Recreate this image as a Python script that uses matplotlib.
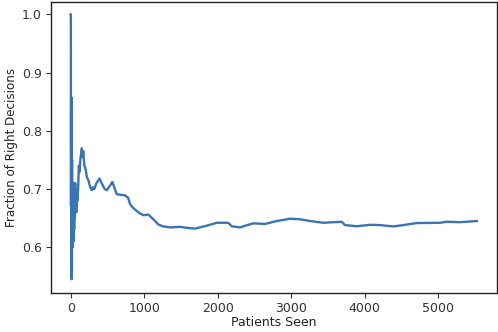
import matplotlib
matplotlib.use("Agg")
import matplotlib.pyplot as plt

patients = [0, 1, 3, 5, 7, 9, 11, 13, 15, 17, 19, 21, 24, 27, 30, 34, 38, 42, 46, 50,
            55, 60, 65, 70, 75, 80, 90, 100, 110, 120, 130, 150, 160, 170, 185, 200,
            220, 240, 260, 285, 300, 320, 350, 390, 420, 460, 490, 530, 566, 600, 626,
            680, 739, 780, 807, 852, 900, 943, 990, 1056, 1124, 1192, 1250, 1351, 1487,
            1600, 1691, 1850, 1986, 2144, 2190, 2303, 2400, 2485, 2644, 2803, 2984,
            3120, 3256, 3437, 3687, 3732, 3891, 4072, 4208, 4389, 4525, 4707, 5024,
            5115, 5297, 5524]
fraction = [1.0, 1.0, 0.67, 0.857, 0.60, 0.857, 0.545, 0.80, 0.56, 0.75, 0.60, 0.71,
            0.60, 0.71, 0.62, 0.70, 0.61, 0.71, 0.63, 0.70, 0.65, 0.71, 0.67, 0.70,
            0.66, 0.69, 0.68, 0.70, 0.74, 0.73, 0.75, 0.770, 0.755, 0.765, 0.74, 0.735,
            0.72, 0.715, 0.705, 0.698, 0.703, 0.700, 0.710, 0.718, 0.710, 0.700, 0.698,
            0.705, 0.712, 0.700, 0.691, 0.690, 0.689, 0.685, 0.674, 0.667, 0.662, 0.658,
            0.655, 0.656, 0.648, 0.639, 0.636, 0.634, 0.635, 0.633, 0.632, 0.637, 0.642,
            0.642, 0.636, 0.634, 0.638, 0.641, 0.640, 0.645, 0.649, 0.648, 0.645, 0.642,
            0.6437, 0.638, 0.636, 0.6385, 0.638, 0.6357, 0.638, 0.6415, 0.642, 0.6437,
            0.643, 0.645]
x_ticks = [0, 1000, 2000, 3000, 4000, 5000]
y_ticks = [0.6, 0.7, 0.8, 0.9, 1.0]

fig = plt.figure(figsize=(4.98, 3.32), dpi=100)
ax = fig.add_axes([0.102, 0.118, 0.896, 0.877])
ax.plot(patients, fraction, color="#3a75b3", linewidth=1.7)
ax.set_xticks(x_ticks)
ax.set_yticks(y_ticks)
ax.set_xlim(-272, 5800)
ax.set_ylim(0.5217, 1.0217)
ax.tick_params(labelsize=9, colors="#333333", length=3.5, pad=3)
for s in ax.spines.values():
    s.set_color("#222222")
    s.set_linewidth(1.0)
ax.set_xlabel("Patients Seen", fontsize=9, color="#222222", labelpad=1)
ax.set_ylabel("Fraction of Right Decisions", fontsize=8.6, color="#222222", labelpad=3)
fig.savefig("out.png", dpi=100)
